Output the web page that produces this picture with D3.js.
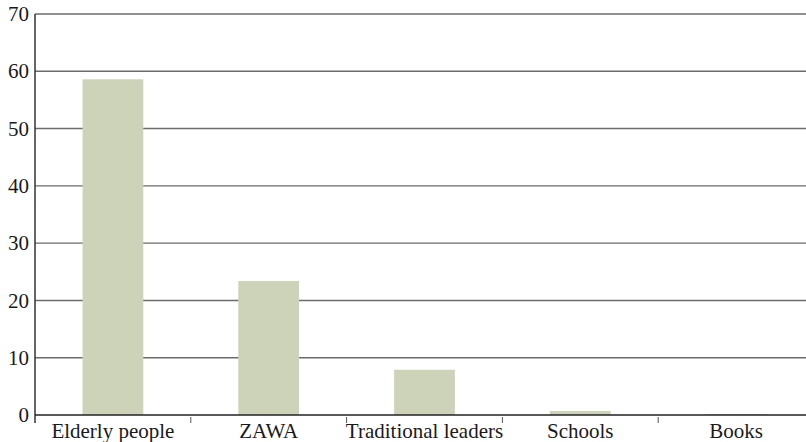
<!DOCTYPE html>
<html>
<head>
<meta charset="utf-8">
<script src="https://cdn.jsdelivr.net/npm/d3@7"></script>
<style>
  body { margin: 0; background: #fff; }
  svg text { font-family: 'Liberation Serif'; }
</style>
</head>
<body>
<div id="chart"></div>
<script>
// chart data
let categories = ["Elderly people", "ZAWA", "Traditional leaders", "Schools", "Books"];
let values = [58.6, 23.4, 7.9, 0.7, 0.15];
let yTicks = [0, 10, 20, 30, 40, 50, 60, 70];

let W = 806, H = 442;
let margin = {top: 14, right: -8, bottom: 27, left: 35};
let width = W - margin.left - margin.right,
    height = H - margin.top - margin.bottom;

let svg = d3.select("#chart")
    .append("svg")
    .attr("width", W)
    .attr("height", H)
    .append("g")
    .attr("transform", "translate(" + margin.left + "," + margin.top + ")");

let x = d3.scaleBand()
    .domain(categories)
    .range([0, width])
    .paddingInner(0.61)
    .paddingOuter(0.305);

let y = d3.scaleLinear()
    .domain([0, 70])
    .range([height, 0]);

// gridlines
svg.append("g")
    .selectAll("line")
    .data(yTicks.filter(d => d > 0))
    .enter()
    .append("line")
    .attr("x1", 0)
    .attr("x2", W)
    .attr("y1", d => y(d))
    .attr("y2", d => y(d))
    .attr("stroke", "#6b6b6b")
    .attr("stroke-width", 1.4);

// bars
svg.selectAll(".bar")
    .data(values)
    .enter()
    .append("rect")
    .attr("class", "bar")
    .attr("x", (d, i) => x(categories[i]))
    .attr("width", x.bandwidth())
    .attr("y", d => y(d))
    .attr("height", d => height - y(d))
    .attr("fill", "#cdd3b9");

// y axis labels, drawn by hand so nothing overrides the font
svg.append("g")
    .selectAll("text")
    .data(yTicks)
    .enter()
    .append("text")
    .attr("x", -6)
    .attr("y", d => y(d))
    .attr("dy", "0.34em")
    .attr("text-anchor", "end")
    .style("font-family", "'Liberation Serif'")
    .style("font-size", "21px")
    .attr("fill", "#1a1a1a")
    .text(d => d);

svg.append("line")
    .attr("x1", 0).attr("x2", 0)
    .attr("y1", 0).attr("y2", height + 8)
    .attr("stroke", "#333").attr("stroke-width", 1.5);

// x axis
svg.append("line")
    .attr("x1", 0).attr("x2", W)
    .attr("y1", height).attr("y2", height)
    .attr("stroke", "#222").attr("stroke-width", 1.5);

let step = x.step();
svg.append("g")
    .selectAll("line")
    .data(categories.slice(1))
    .enter()
    .append("line")
    .attr("x1", d => x(d) - x.paddingInner() * step / 2)
    .attr("x2", d => x(d) - x.paddingInner() * step / 2)
    .attr("y1", height + 2)
    .attr("y2", height + 8)
    .attr("stroke", "#555")
    .attr("stroke-width", 1);

svg.append("g")
    .selectAll("text")
    .data(categories)
    .enter()
    .append("text")
    .attr("x", d => x(d) + x.bandwidth() / 2)
    .attr("y", height + 23)
    .attr("text-anchor", "middle")
    .style("font-family", "'Liberation Serif'")
    .style("font-size", "21px")
    .attr("fill", "#1a1a1a")
    .text(d => d);
</script>
</body>
</html>
